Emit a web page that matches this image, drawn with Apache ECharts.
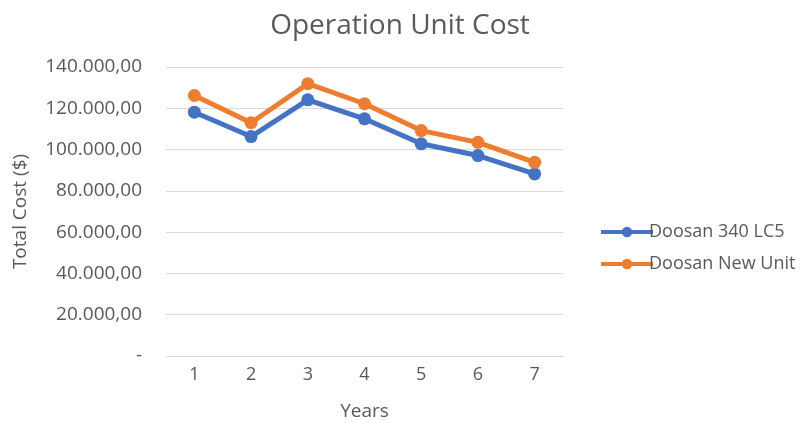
<!DOCTYPE html>
<html><head><meta charset="utf-8">
<script src="https://cdn.jsdelivr.net/npm/echarts@6/dist/echarts.min.js"></script>
<style>html,body{margin:0;padding:0;background:#fff}#c{width:800px;height:423px}</style>
</head><body><div id="c"></div>
<script>
const years = ['1','2','3','4','5','6','7'];
const doosan340 = [118100, 106300, 124100, 114900, 102800, 97100, 88200];
const doosanNew = [126200, 113000, 131900, 122200, 109200, 103500, 93800];
const yTicks = [0, 20000, 40000, 60000, 80000, 100000, 120000, 140000];

function fmt(v){
  if (v === 0) return '-';
  const s = Math.round(v).toString().replace(/\B(?=(\d{3})+(?!\d))/g, '.');
  return s + ',00';
}
const font = "'Open Sans', 'Noto Sans', sans-serif";
const chart = echarts.init(document.getElementById('c'));
chart.setOption({
  animation: false,
  textStyle: {fontFamily: font},
  title: {text: 'Operation Unit Cost', left: 'center', top: 7,
    textStyle: {fontFamily: font, fontSize: 28, fontWeight: 'normal', color: '#595959'}},
  grid: {left: 166, right: 237, top: 67, bottom: 67, outerBoundsMode: 'none', containLabel: false},
  legend: {orient: 'vertical', left: 594, top: 218, itemGap: 14, itemWidth: 52, itemHeight: 13,
    lineStyle: {width: 4},
    textStyle: {fontFamily: font, fontSize: 18, color: '#595959', padding: [0,0,0,-9]},
    data: [
      {name: 'Doosan 340 LC5', lineStyle: {width: 4}},
      {name: 'Doosan New Unit', lineStyle: {width: 4}}
    ]},
  xAxis: {type: 'category', data: years, boundaryGap: true,
    name: 'Years', nameLocation: 'middle', nameGap: 46,
    nameTextStyle: {fontFamily: font, fontSize: 19, color: '#595959'},
    axisLine: {show: true, lineStyle: {color: '#d9d9d9', width: 1}},
    axisTick: {show: false},
    axisLabel: {fontFamily: font, fontSize: 18, color: '#595959', margin: 10}},
  yAxis: {type: 'value', min: 0, max: 140000, interval: 20000,
    name: 'Total Cost ($)', nameLocation: 'middle', nameGap: 136, nameRotate: 90,
    nameTextStyle: {fontFamily: font, fontSize: 19, color: '#595959'},
    axisLine: {show: false}, axisTick: {show: false},
    splitLine: {lineStyle: {color: '#d9d9d9', width: 1}},
    axisLabel: {fontFamily: font, fontSize: 19, color: '#595959', margin: 24,
      formatter: v => yTicks.includes(v) ? fmt(v) : ''}},
  series: [
    {name: 'Doosan 340 LC5', type: 'line', data: doosan340, symbol: 'circle', symbolSize: 13,
      lineStyle: {width: 5, color: '#4472C4'}, itemStyle: {color: '#4472C4'}},
    {name: 'Doosan New Unit', type: 'line', data: doosanNew, symbol: 'circle', symbolSize: 13,
      lineStyle: {width: 5, color: '#ED7D31'}, itemStyle: {color: '#ED7D31'}}
  ]
});
</script></body></html>
